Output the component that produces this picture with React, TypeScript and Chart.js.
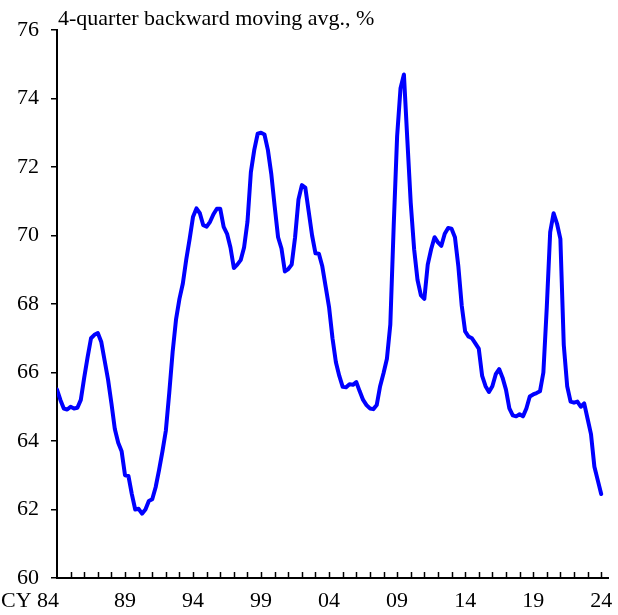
import React, { useEffect, useRef } from 'react';
import { Chart, registerables } from 'chart.js';

Chart.register(...registerables);

const startYear = 1984;
// quarterly values, 1984Q1 ... 2024Q1
const values: number[] = [
  65.5, 65.2, 64.95, 64.92, 65.0, 64.95, 64.97, 65.2, 65.85, 66.45,
  67.0, 67.1, 67.15, 66.9, 66.35, 65.8, 65.1, 64.35, 63.95, 63.7,
  63.0, 62.98, 62.45, 62.0, 62.02, 61.88, 62.0, 62.25, 62.3, 62.65,
  63.15, 63.7, 64.3, 65.4, 66.6, 67.55, 68.15, 68.6, 69.3, 69.9,
  70.55, 70.79, 70.65, 70.3, 70.26, 70.4, 70.62, 70.78, 70.78, 70.25,
  70.05, 69.65, 69.05, 69.15, 69.28, 69.65, 70.4, 71.85, 72.5, 72.97,
  73.0, 72.95, 72.5, 71.8, 70.85, 69.95, 69.62, 68.95, 69.02, 69.15,
  69.95, 71.05, 71.47, 71.4, 70.7, 70.0, 69.48, 69.47, 69.1, 68.5,
  67.9, 67.0, 66.3, 65.9, 65.58, 65.57, 65.66, 65.64, 65.72, 65.45,
  65.2, 65.05, 64.95, 64.93, 65.05, 65.6, 65.98, 66.4, 67.4, 70.3,
  72.9, 74.3, 74.7, 72.8, 70.95, 69.6, 68.7, 68.25, 68.15, 69.15,
  69.6, 69.95, 69.8, 69.7, 70.05, 70.22, 70.2, 69.95, 69.1, 67.95,
  67.2, 67.05, 67.0, 66.85, 66.7, 65.9, 65.6, 65.43, 65.6, 65.95,
  66.1, 65.85, 65.5, 64.95, 64.75, 64.72, 64.78, 64.72, 64.95, 65.3,
  65.36, 65.4, 65.45, 66.0, 67.9, 70.1, 70.65, 70.35, 69.9, 66.8,
  65.6, 65.15, 65.12, 65.15, 65.0, 65.1, 64.65, 64.2, 63.25, 62.85,
  62.45,
];

const xTickYears = [1984, 1989, 1994, 1999, 2004, 2009, 2014, 2019, 2024];
const xTickLabels = ['CY 84', '89', '94', '99', '04', '09', '14', '19', '24'];
const yMin = 60;
const yMax = 76;
const yStep = 2;
const yTitle = '4-quarter backward moving avg., %';
const axisEndYear = 2024.5;

const FONT = "'Liberation Serif', 'Times New Roman', serif";

const customDraw = {
  id: 'customDraw',
  afterDraw(chart: any) {
    const ctx = chart.ctx;
    const xs = chart.scales.x;
    const area = chart.chartArea;
    ctx.save();
    // title
    ctx.fillStyle = '#000';
    ctx.font = `22px ${FONT}`;
    ctx.textAlign = 'left';
    ctx.textBaseline = 'alphabetic';
    ctx.fillText(yTitle, area.left + 1, 25);
    // yearly tick marks pointing inward
    ctx.strokeStyle = '#000';
    ctx.lineWidth = 1.5;
    for (let yr = startYear + 1; yr <= Math.floor(axisEndYear); yr++) {
      const px = Math.round(xs.getPixelForValue(yr)) + 0.5;
      ctx.beginPath();
      ctx.moveTo(px, area.bottom);
      ctx.lineTo(px, area.bottom - 6);
      ctx.stroke();
    }
    // x labels
    ctx.textBaseline = 'top';
    xTickYears.forEach((yr, i) => {
      const px = xs.getPixelForValue(yr);
      if (i === 0) {
        ctx.textAlign = 'left';
        ctx.fillText(xTickLabels[i], 1, area.bottom + 12);
      } else {
        ctx.textAlign = 'center';
        ctx.fillText(xTickLabels[i], px, area.bottom + 12);
      }
    });
    ctx.restore();
  },
};

export default function App() {
  const ref = useRef<HTMLCanvasElement | null>(null);
  useEffect(() => {
    document.body.style.margin = '0';
    const canvas = ref.current;
    if (!canvas) return;
    const points = values.map((v, i) => ({ x: startYear + i / 4, y: v }));
    const chart = new Chart(canvas, {
      type: 'line',
      data: {
        datasets: [
          {
            data: points,
            borderColor: '#0000FF',
            borderWidth: 4,
            pointRadius: 0,
            tension: 0,
            fill: false,
            borderJoinStyle: 'round',
            borderCapStyle: 'round',
          },
        ],
      },
      options: {
        responsive: false,
        animation: false,
        layout: { padding: { top: 30, right: 10, bottom: 0, left: 0 } },
        plugins: { legend: { display: false }, tooltip: { enabled: false }, title: { display: false } },
        scales: {
          x: {
            type: 'linear',
            min: startYear,
            max: axisEndYear,
            ticks: { display: false },
            grid: { display: false, drawTicks: false },
            border: { color: '#000', width: 2 },
            afterFit: (s: any) => {
              s.height = 37;
            },
          },
          y: {
            min: yMin,
            max: yMax,
            ticks: { stepSize: yStep, padding: 12, color: '#000', font: { family: FONT, size: 22 } },
            grid: { drawOnChartArea: false, drawTicks: true, tickLength: 6, color: '#000', lineWidth: 1.5 },
            border: { color: '#000', width: 2 },
            afterFit: (s: any) => {
              s.width = 57;
            },
          },
        },
      },
      plugins: [customDraw],
    } as any);
    return () => chart.destroy();
  }, []);
  return (
    <div style={{ width: 618, height: 615 }}>
      <canvas ref={ref} width={618} height={615} style={{ display: 'block' }} />
    </div>
  );
}
